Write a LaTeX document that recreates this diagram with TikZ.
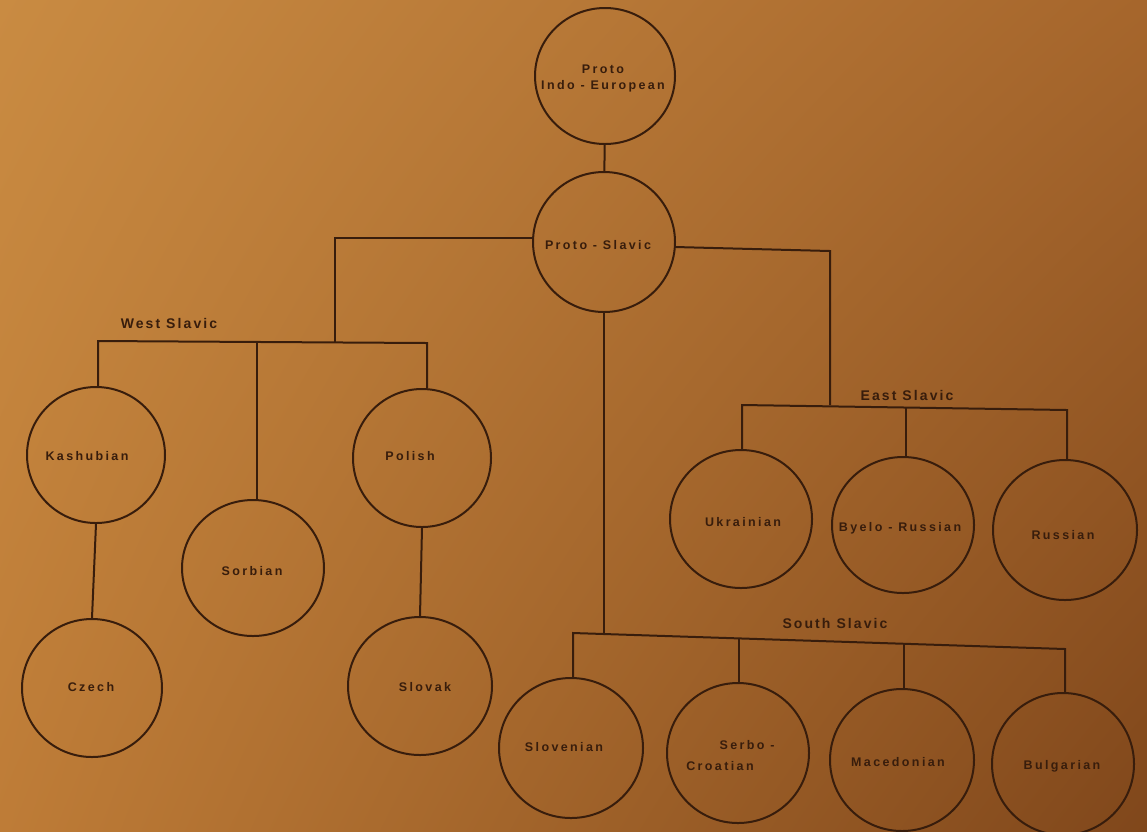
\documentclass[tikz,border=0pt]{standalone}
\usepackage{fontspec}
\setmainfont{Liberation Sans}[LetterSpace=19]
\newfontfamily\grpfont{Liberation Sans}[LetterSpace=15]
\usetikzlibrary{shapes.geometric,shadings}
\definecolor{ink}{HTML}{381D0C}
\definecolor{bgUL}{HTML}{C98B42}
\definecolor{bgUR}{HTML}{A6662C}
\definecolor{bgLL}{HTML}{BE7C37}
\definecolor{bgLR}{HTML}{80471B}
\tikzset{
  lang/.style={ellipse, draw=ink, line width=2pt, inner sep=0pt},
  ltext/.style={text=ink, inner sep=0pt, font=\fontsize{12.5}{16}\selectfont\bfseries, align=center},
  group/.style={text=ink, inner sep=0pt, font=\grpfont\fontsize{14}{16}\selectfont\bfseries},
  conn/.style={draw=ink, line width=2pt}
}
\begin{document}
\begin{tikzpicture}[x=1pt,y=-1pt]
\shade[upper left=bgUL, upper right=bgUR, lower left=bgLL, lower right=bgLR] (0,0) rectangle (1147,831);
\useasboundingbox (0,0) rectangle (1147,831);

% circles
\node[lang, minimum width=140pt, minimum height=136pt] (pie) at (605,76) {};
\node[lang, minimum width=142pt, minimum height=140pt] (ps) at (604,242) {};
\node[lang, minimum width=138pt, minimum height=136pt] (kas) at (96,455) {};
\node[lang, minimum width=140pt, minimum height=138pt] (cze) at (92,688) {};
\node[lang, minimum width=142pt, minimum height=136pt] (sor) at (253,568) {};
\node[lang, minimum width=138pt, minimum height=138pt] (pol) at (422,458) {};
\node[lang, minimum width=144pt, minimum height=138pt] (slk) at (420,686) {};
\node[lang, minimum width=142pt, minimum height=138pt] (ukr) at (741,519) {};
\node[lang, minimum width=142pt, minimum height=136pt] (bye) at (903,525) {};
\node[lang, minimum width=144pt, minimum height=140pt] (rus) at (1065,530) {};
\node[lang, minimum width=144pt, minimum height=140pt] (slv) at (571,748) {};
\node[lang, minimum width=142pt, minimum height=140pt] (ser) at (738,753) {};
\node[lang, minimum width=144pt, minimum height=142pt] (mac) at (902,760) {};
\node[lang, minimum width=142pt, minimum height=142pt] (bul) at (1063,764) {};

% texts
\node[ltext] (tpie) at (603,78) {Proto\\Indo - European};
\node[ltext] (tps) at (598,245) {Proto - Slavic};
\node[ltext] (tkas) at (87,456) {Kashubian};
\node[ltext] (tcze) at (91,687) {Czech};
\node[ltext] (tsor) at (252,571) {Sorbian};
\node[ltext] (tpol) at (410,456) {Polish};
\node[ltext] (tslk) at (425,687) {Slovak};
\node[ltext] (tukr) at (743,522) {Ukrainian};
\node[ltext] (tbye) at (900,528) {Byelo - Russian};
\node[ltext] (trus) at (1063,535) {Russian};
\node[ltext] (tslv) at (564,747) {Slovenian};
\node[ltext] (tser1) at (747,745) {Serbo -};
\node[ltext] (tser2) at (720,766) {Croatian};
\node[ltext] (tmac) at (898,762) {Macedonian};
\node[ltext] (tbul) at (1062,766) {Bulgarian};

% group labels
\node[group] (gw) at (169,323) {West Slavic};
\node[group] (ge) at (907,395) {East Slavic};
\node[group] (gs) at (835,623) {South Slavic};

% junction coordinates
\coordinate (wj) at (335,342);
\coordinate (wL) at (98,341);
\coordinate (wS) at (257,342);
\coordinate (wR) at (427,343);
\coordinate (ec) at (830,251);
\coordinate (eL) at (742,405);
\coordinate (eB) at (906,407);
\coordinate (eR) at (1067,410);
\coordinate (sL) at (573,633);
\coordinate (sS) at (739,638);
\coordinate (sM) at (904,643);
\coordinate (sR) at (1065,649);

% connectors
\draw[conn] (pie) -- (ps);
\draw[conn] (ps.177) -| (wj);
\draw[conn] (wL |- kas.north) -- (wL) -- (wR) -- (wR |- pol.north);
\draw[conn] (wS) -- (wS |- sor.north);
\draw[conn] (kas.south) -- (cze.north);
\draw[conn] (pol.south) -- (slk.north);
\draw[conn] (ps.-4) -- (ec) -- (ec |- eL);
\draw[conn] (eL |- ukr.north) -- (eL) -- (eR) -- (eR |- rus.north);
\draw[conn] (eB) -- (eB |- bye.north);
\draw[conn] (ps.south) -- (ps.south |- sL);
\draw[conn] (sL |- slv.north) -- (sL) -- (sR) -- (sR |- bul.north);
\draw[conn] (sS) -- (sS |- ser.north);
\draw[conn] (sM) -- (sM |- mac.north);
\end{tikzpicture}
\end{document}
